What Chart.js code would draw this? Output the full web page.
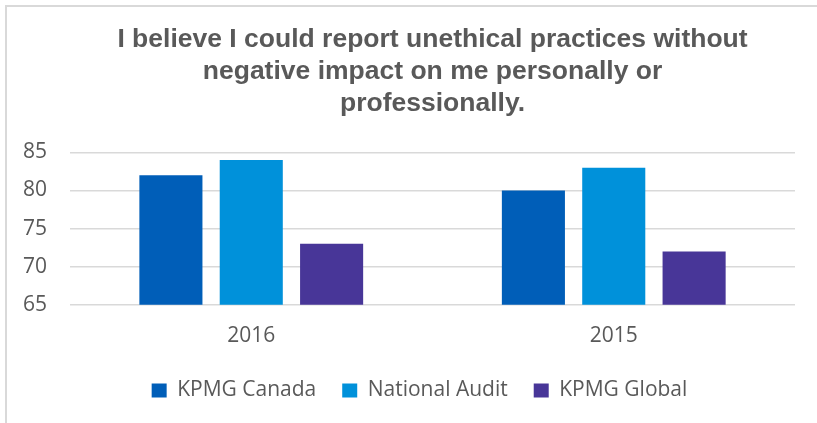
<!DOCTYPE html>
<html>
<head>
<meta charset="utf-8">
<script src="https://cdn.jsdelivr.net/npm/chart.js@4.4.1/dist/chart.umd.min.js"></script>
<style>
    html, body { margin: 0; padding: 0; background: #fff; overflow: hidden; }
    #wrap { position: relative; width: 817px; height: 423px; overflow: hidden; }
    #frame {
        position: absolute; left: 5px; top: 5px; width: 900px; height: 500px;
        border-left: 2px solid #d9d9d9; border-top: 2px solid #d9d9d9;
        box-sizing: border-box; pointer-events: none;
    }
    #box { position: absolute; left: 0; top: 0; width: 836px; height: 423px; }
</style>
</head>
<body>
<div id="wrap">
    <div id="box"><canvas id="chart"></canvas></div>
    <div id="frame"></div>
</div>
<script>
const titleLines = [
    'I believe I could report unethical practices without',
    'negative impact on me personally or',
    'professionally.'
];
const years = ['2016', '2015'];
const seriesNames = ['KPMG Canada', 'National Audit', 'KPMG Global'];
const kpmgCanada = [82, 80];
const nationalAudit = [84, 83];
const kpmgGlobal = [73, 72];
const yTicks = [65, 70, 75, 80, 85];

const colors = ['#005EB8', '#0091DA', '#483698'];
const values = [kpmgCanada, nationalAudit, kpmgGlobal];

const datasets = seriesNames.map((name, i) => ({
    label: name,
    data: values[i],
    backgroundColor: colors[i],
    borderWidth: 0,
    barPercentage: 0.785,
    categoryPercentage: 0.665
}));

const textColor = '#595959';
const bodyFont = '"Open Sans", sans-serif';
const legendShrink = 14;
const legendShift = 22;

// legend takes less room in the layout, keeps its items where they were,
// and sits a bit right of the canvas centre like in the original
const legendSpace = {
    id: 'legendSpace',
    beforeUpdate(chart) {
        const legend = chart.legend;
        if (!legend || legend._shrunk) return;
        const fit = legend.fit;
        legend.fit = function () {
            fit.call(this);
            this.height -= legendShrink;
        };
        legend._shrunk = true;
    },
    afterLayout(chart) {
        const legend = chart.legend;
        if (!legend) return;
        legend.top -= legendShrink;
        legend.left += legendShift;
        legend.right += legendShift;
    }
};

new Chart(document.getElementById('chart').getContext('2d'), {
    type: 'bar',
    data: { labels: years, datasets: datasets },
    plugins: [legendSpace],
    options: {
        responsive: true,
        maintainAspectRatio: false,
        animation: false,
        layout: { padding: { left: 0, right: 41, top: 0, bottom: 12 } },
        plugins: {
            title: {
                display: true,
                text: titleLines,
                fullSize: false,
                color: textColor,
                font: { family: '"Liberation Sans", Arial, sans-serif', size: 26.5, weight: 'bold', lineHeight: 1.2 },
                padding: { top: 24, bottom: 33 }
            },
            legend: {
                position: 'bottom',
                labels: {
                    color: textColor,
                    boxWidth: 15,
                    boxHeight: 14,
                    padding: 26,
                    font: { family: bodyFont, size: 21 }
                }
            },
            tooltip: { enabled: false }
        },
        scales: {
            x: {
                grid: { display: false, drawTicks: false },
                border: { display: false },
                ticks: {
                    color: textColor,
                    padding: 19,
                    font: { family: bodyFont, size: 21 }
                }
            },
            y: {
                min: yTicks[0],
                max: yTicks[yTicks.length - 1],
                afterBuildTicks: axis => { axis.ticks = yTicks.map(v => ({ value: v })); },
                grid: { color: '#d9d9d9', lineWidth: 1.5, drawTicks: false },
                border: { display: false },
                ticks: {
                    color: textColor,
                    padding: 23,
                    font: { family: bodyFont, size: 21 }
                }
            }
        }
    }
});
</script>
</body>
</html>
